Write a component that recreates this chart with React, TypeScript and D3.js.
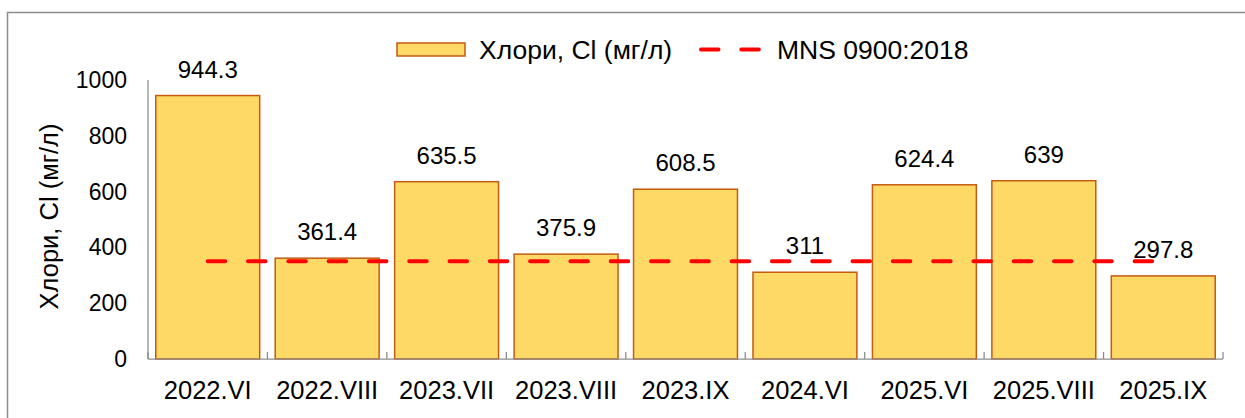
import React from "react";
import * as d3 from "d3";

const categories = ["2022.VI", "2022.VIII", "2023.VII", "2023.VIII", "2023.IX", "2024.VI", "2025.VI", "2025.VIII", "2025.IX"];
const chloride = [944.3, 361.4, 635.5, 375.9, 608.5, 311, 624.4, 639, 297.8];
const standardLimit = 350;
const yTicks = [0, 200, 400, 600, 800, 1000];

const W = 1245;
const H = 418;
const FONT = "'Liberation Sans', Arial, sans-serif";
const BAR_FILL = "#FFD966";
const BAR_STROKE = "#C55A11";
const LIMIT_COLOR = "#FF0000";
const DASH = "17.5 22.8";

export default function App() {
  const left = 148;
  const right = 1223;
  const top = 80;
  const bottom = 359;

  const x = d3.scaleBand<string>().domain(categories).range([left, right]).paddingInner(0.13).paddingOuter(0.065);
  const y = d3.scaleLinear().domain([0, 1000]).range([bottom, top]);
  const center = (c: string) => (x(c) as number) + x.bandwidth() / 2;

  // dashed limit line runs from the first category centre to the last
  const limitPath = d3.line<[string, number]>()
    .x((d) => center(d[0]))
    .y((d) => y(d[1]))([
      [categories[0], standardLimit],
      [categories[categories.length - 1], standardLimit],
    ]) as string;

  const boundaries = d3.range(categories.length + 1).map((i) => left + i * (right - left) / categories.length);

  return (
    <svg width={W} height={H} style={{ position: "absolute", left: 0, top: 0 }} fontFamily={FONT}>
      <rect x={0} y={0} width={W} height={H} fill="#fff" />
      <rect x={7.5} y={12.5} width={W + 10} height={H + 10} fill="none" stroke="#8c8c8c" strokeWidth={1.5} />

      {/* legend */}
      <g>
        <rect x={397} y={43} width={68} height={13} fill={BAR_FILL} stroke={BAR_STROKE} strokeWidth={1.5} />
        <text x={479} y={58.5} fontSize={26.5} fill="#000">Хлори, Cl (мг/л)</text>
        <line x1={701} x2={760} y1={49.5} y2={49.5} stroke={LIMIT_COLOR} strokeWidth={4} strokeLinecap="round" strokeDasharray={DASH} />
        <text x={777} y={58.5} fontSize={26.5} fill="#000">MNS 0900:2018</text>
      </g>

      {/* y axis */}
      <line x1={left} x2={left} y1={top} y2={bottom} stroke="#8c8c8c" strokeWidth={1.25} />
      {yTicks.map((t) => (
        <text key={t} x={127} y={y(t)} dy="0.35em" textAnchor="end" fontSize={23} fill="#000">{t}</text>
      ))}
      <text transform={`translate(58, ${(top + bottom) / 2 - 3}) rotate(-90)`} textAnchor="middle" fontSize={25.5} fill="#000">Хлори, Cl (мг/л)</text>

      {/* bars */}
      {categories.map((c, i) => (
        <g key={c}>
          <rect x={x(c)} y={y(chloride[i])} width={x.bandwidth()} height={y(0) - y(chloride[i])} fill={BAR_FILL} stroke={BAR_STROKE} strokeWidth={1.5} />
          <text x={center(c)} y={y(chloride[i]) - 18} textAnchor="middle" fontSize={24} fill="#000">{chloride[i]}</text>
        </g>
      ))}

      {/* x axis */}
      <line x1={left} x2={right} y1={bottom} y2={bottom} stroke="#8c8c8c" strokeWidth={1.25} />
      {boundaries.map((b, i) => (
        <line key={i} x1={b} x2={b} y1={bottom} y2={bottom - 7} stroke="#8c8c8c" strokeWidth={1.25} />
      ))}
      {categories.map((c) => (
        <text key={c} x={center(c)} y={399} textAnchor="middle" fontSize={25.5} fill="#000">{c}</text>
      ))}

      {/* standard limit */}
      <path d={limitPath} fill="none" stroke={LIMIT_COLOR} strokeWidth={4} strokeLinecap="round" strokeDasharray={DASH} />
    </svg>
  );
}
